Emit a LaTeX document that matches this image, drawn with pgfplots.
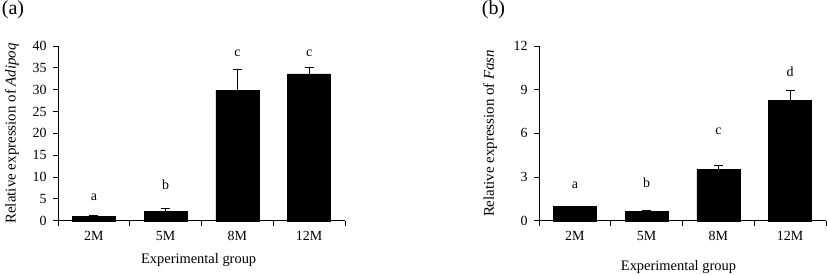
\documentclass[border=0pt]{standalone}
\usepackage{pgfplots}
\pgfplotsset{compat=1.18}
\usepackage{fontspec}
\setmainfont{Liberation Serif}
\begin{document}
\begin{tikzpicture}[x=1bp,y=1bp]
\path[use as bounding box] (0,0) rectangle (827,274);
\pgfplotsset{
  myaxis/.style={
    scale only axis, width=287bp, height=174.7bp,
    axis lines=left, axis line style={-, line width=0.9bp},
    xmin=-0.5, xmax=3.5, ymin=0,
    xtick={0,1,2,3}, xticklabels={2M,5M,8M,12M},
    major x tick style={draw=none},
    minor xtick={-0.5,0.5,1.5,2.5,3.5},
    minor tick length=5bp, major tick length=5bp,
    tick align=outside, tick style={line width=0.9bp, black},
    ticklabel style={font=\fontsize{14}{15}\selectfont},
    /pgf/number format/assume math mode=true,
    yticklabel style={xshift=-3bp},
    xticklabel style={yshift=-2bp},
    xlabel={Experimental group},
    clip=false,
  },
  mybar/.style={ybar, bar width=0.6, fill=black, draw=black,
    error bars/.cd, y dir=plus, y explicit, error bar style={line width=0.9bp, black},
    error mark options={rotate=90, mark size=4.5bp, line width=0.9bp}},
  letters/.style={only marks, mark=none, nodes near coords, point meta=explicit symbolic,
    every node near coord/.append style={anchor=center, inner sep=0pt, font=\fontsize{14}{15}\selectfont}},
}
\begin{axis}[myaxis, at={(58bp,53.3bp)}, anchor=south west,
  ymax=40, ytick={0,5,...,40},
  every axis y label/.style={at={(axis description cs:-0.16,0.5)}, rotate=90, anchor=center, font=\fontsize{15}{16}\selectfont},
  every axis x label/.style={at={(axis description cs:0.49,-0.225)}, anchor=center, font=\fontsize{14.5}{16}\selectfont},
  ylabel={Relative expression of \textit{Adipoq}}]
\addplot[mybar] table[x=x, y=y, y error=e] {
x y e
0 1.05 0.2
1 2.2 0.5
2 29.9 4.7
3 33.6 1.6
};
\addplot[letters] table[x=x, y=y, meta=l] {
x y l
0 5.43 a
1 8.17 b
2 38.4 c
3 38.4 c
};
\end{axis}
\node[font=\fontsize{20}{21}\selectfont, anchor=center] at (13,264) {(a)};
\begin{axis}[myaxis, at={(539bp,53.3bp)}, anchor=south west,
  ymax=12, ytick={0,3,...,12},
  every axis y label/.style={at={(axis description cs:-0.17,0.5)}, rotate=90, anchor=center, font=\fontsize{15}{16}\selectfont},
  every axis x label/.style={at={(axis description cs:0.486,-0.265)}, anchor=center, font=\fontsize{14.5}{16}\selectfont},
  ylabel={Relative expression of \textit{Fasn}}]
\addplot[mybar] table[x=x, y=y, y error=e] {
x y e
0 1.0 0.0
1 0.66 0.04
2 3.55 0.23
3 8.27 0.68
};
\addplot[letters] table[x=x, y=y, meta=l] {
x y l
0 2.40 a
1 2.59 b
2 6.16 c
3 10.23 d
};
\end{axis}
\node[font=\fontsize{20}{21}\selectfont, anchor=center] at (493.5,264) {(b)};
\end{tikzpicture}
\end{document}
